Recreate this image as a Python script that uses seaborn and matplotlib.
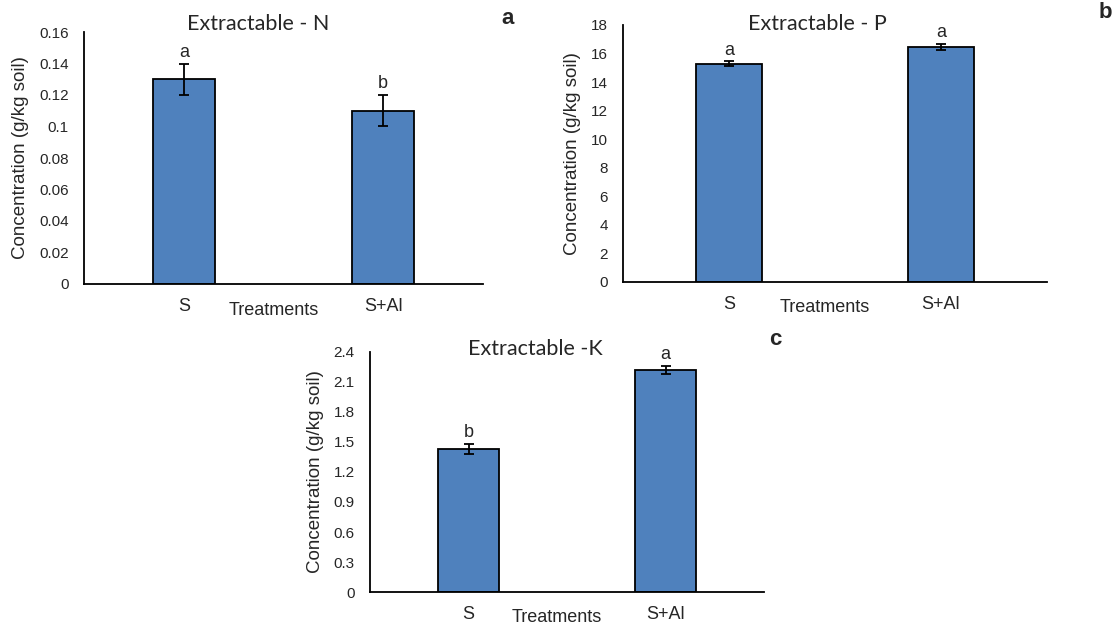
import pandas as pd
import matplotlib.pyplot as plt
import seaborn as sns

TREATMENTS = ["S", "S+Al"]

N_MEAN = [0.13, 0.11]
N_ERR = [0.01, 0.01]
N_LETTERS = ["a", "b"]

P_MEAN = [15.3, 16.45]
P_ERR = [0.15, 0.2]
P_LETTERS = ["a", "a"]

K_MEAN = [1.43, 2.22]
K_ERR = [0.05, 0.04]
K_LETTERS = ["b", "a"]

BAR_COLOR = "#4F81BD"
TEXT_FONT = ["Liberation Sans", "DejaVu Sans"]
TITLE_FONT = ["Lato", "DejaVu Sans"]


def draw_panel(fig, rect, means, errs, letters, title, title_xy, ymax, ystep,
               tick_fmt, panel, panel_xy, xlab_off):
    ax = fig.add_axes(rect)
    df = pd.DataFrame({"treatment": TREATMENTS, "value": means})
    sns.barplot(data=df, x="treatment", y="value", color=BAR_COLOR, saturation=1,
                width=0.31, edgecolor="black", linewidth=1.3, errorbar=None, ax=ax)
    ax.errorbar(range(len(means)), means, yerr=errs, fmt="none", ecolor="black",
                elinewidth=1.3, capsize=3.5, capthick=1.3)
    for i, (m, e, s) in enumerate(zip(means, errs, letters)):
        ax.annotate(s, (i, m + e), xytext=(0, 2), textcoords="offset points",
                    ha="center", va="bottom", fontsize=13, family=TEXT_FONT)

    ticks = [round(ystep * k, 4) for k in range(int(round(ymax / ystep)) + 1)]
    ax.set_ylim(0, ymax)
    ax.set_yticks(ticks)
    ax.set_yticklabels([tick_fmt(t) for t in ticks], family=TEXT_FONT, fontsize=11)
    ax.set_xticks(range(len(TREATMENTS)))
    ax.set_xticklabels(TREATMENTS, family=TEXT_FONT, fontsize=13)
    ax.set_xlim(-0.5, len(TREATMENTS) - 0.5)
    ax.tick_params(axis="both", length=0)
    ax.tick_params(axis="x", pad=10)
    ax.tick_params(axis="y", pad=11)

    ax.set_ylabel("Concentration (g/kg soil)", family=TEXT_FONT, fontsize=13.5, labelpad=7)
    ax.set_xlabel("")
    ax.annotate("Treatments", (0.475, 0), xycoords="axes fraction",
                xytext=(0, -xlab_off), textcoords="offset pixels",
                ha="center", va="center", family=TEXT_FONT, fontsize=13)
    ax.text(title_xy[0], title_xy[1], title, transform=ax.transAxes,
            family=TITLE_FONT, fontsize=15.5, ha="center", va="center")

    sns.despine(ax=ax)
    for side in ("left", "bottom"):
        ax.spines[side].set_color("black")
        ax.spines[side].set_linewidth(1.3)
    ax.grid(False)

    fig.text(panel_xy[0], panel_xy[1], panel, fontsize=16, fontweight="bold",
             family=TEXT_FONT, ha="center", va="center")
    return ax


def fmt_plain(v):
    return f"{v:g}"


def fmt_one(v):
    return "0" if v == 0 else f"{v:.1f}"


def main():
    sns.set_style("white")
    fig = plt.figure(figsize=(11.15, 6.24), dpi=100)
    W, H = 1115, 624

    def rect(l, r, t, b):
        return [l / W, 1 - b / H, (r - l) / W, (b - t) / H]

    draw_panel(fig, rect(84, 483, 32, 284), N_MEAN, N_ERR, N_LETTERS,
               "Extractable - N", (0.436, 1.032), 0.16, 0.02, fmt_plain,
               "a", (508 / W, 1 - 19 / H), 27)
    draw_panel(fig, rect(623, 1047, 25, 282), P_MEAN, P_ERR, P_LETTERS,
               "Extractable - P", (0.458, 1.004), 18, 2, fmt_plain,
               "b", (1105 / W, 1 - 12 / H), 26)
    draw_panel(fig, rect(370, 764, 352, 592), K_MEAN, K_ERR, K_LETTERS,
               "Extractable -K", (0.419, 1.0125), 2.4, 0.3, fmt_one,
               "c", (775 / W, 1 - 340 / H), 25)

    fig.savefig("out.png", dpi=100)


if __name__ == "__main__":
    main()
